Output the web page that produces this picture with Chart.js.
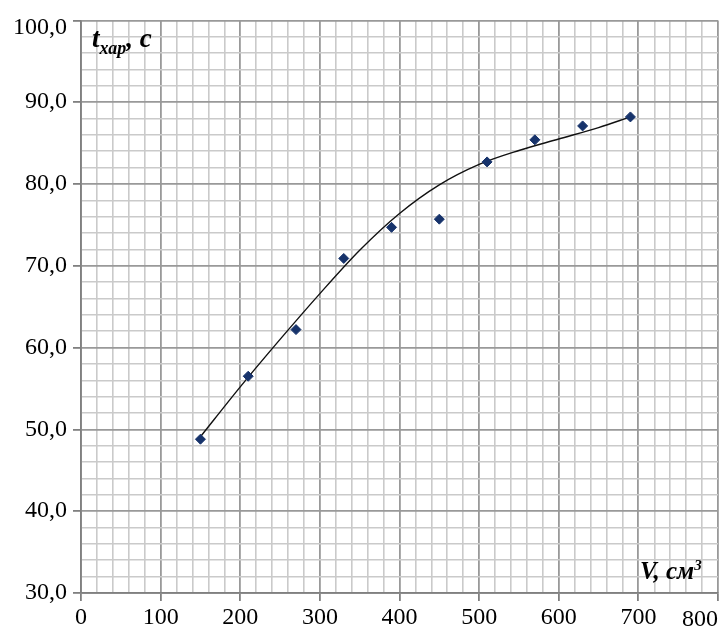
<!DOCTYPE html>
<html>
<head>
<meta charset="utf-8">
<script src="https://cdn.jsdelivr.net/npm/chart.js@4"></script>
<style>
  html, body { margin: 0; padding: 0; background: #fff; }
  #wrap { width: 725px; height: 627px; }
</style>
</head>
<body>
<div id="wrap"><canvas id="c" width="725" height="627"></canvas></div>
<script>
// измеренные точки: объём V, см3 и характерное время t, с
const volumes = [150, 210, 270, 330, 390, 450, 510, 570, 630, 690];
const times = [48.8, 56.5, 62.2, 70.9, 74.7, 75.7, 82.7, 85.4, 87.1, 88.2];

// линия тренда
const trendV = [150, 200, 250, 300, 350, 400, 450, 500, 550, 600, 650, 690];
const trendT = [49.1, 55.2, 61.0, 66.6, 71.9, 76.4, 79.9, 82.4, 84.1, 85.5, 86.9, 88.2];

// подписи осей
const xMajor = [0, 100, 200, 300, 400, 500, 600, 700, 800];
const yMajor = [30, 40, 50, 60, 70, 80, 90, 100];

const FONT = '"Liberation Serif", "Times New Roman", serif';
const MAJOR = '#999999';
const MINOR = '#cacaca';
const TICK_SIZE = 24;

function fmtY(v) { return v.toFixed(1).replace('.', ','); }

// пишет куски текста подряд, каждый своим шрифтом и сдвигом по вертикали
function runText(ctx, x, y, parts) {
  parts.forEach(p => {
    ctx.font = p.font;
    ctx.fillText(p.text, x, y + (p.dy || 0));
    x += ctx.measureText(p.text).width + (p.gap || 0);
  });
}

// подписи-заголовки осей и сдвинутые крайние метки
const extras = {
  id: 'extras',
  afterDraw(chart) {
    const ctx = chart.ctx;
    const xs = chart.scales.x, ys = chart.scales.y;
    const a = chart.chartArea;
    ctx.save();
    ctx.fillStyle = '#000';
    ctx.textBaseline = 'alphabetic';
    ctx.textAlign = 'left';

    // t_хар, с
    runText(ctx, a.left + 11, a.top + 27, [
      { text: 't', font: 'bold italic 27px ' + FONT },
      { text: 'хар', font: 'bold italic 18px ' + FONT, dy: 7 },
      { text: ', c', font: 'bold italic 27px ' + FONT }
    ]);

    // V, см3
    runText(ctx, a.right - 78, a.bottom - 14, [
      { text: 'V, см', font: 'bold italic 25px ' + FONT },
      { text: '3', font: 'bold italic 15px ' + FONT, dy: -9 }
    ]);

    // крайние метки: 800 прижата вправо и чуть ниже, 100,0 опущена
    ctx.font = TICK_SIZE + 'px ' + FONT;
    ctx.textAlign = 'right';
    ctx.textBaseline = 'top';
    ctx.fillText('800', xs.getPixelForValue(800), a.bottom + 15);
    ctx.textBaseline = 'middle';
    ctx.fillText(fmtY(100), a.left - 14, ys.getPixelForValue(100) + 7);
    ctx.restore();
  }
};

new Chart(document.getElementById('c'), {
  type: 'scatter',
  data: {
    datasets: [
      {
        label: 't',
        data: volumes.map((v, i) => ({ x: v, y: times[i] })),
        pointStyle: 'rectRot',
        pointRadius: 5,
        backgroundColor: '#17336b',
        borderColor: '#17336b',
        borderWidth: 1,
        order: 1
      },
      {
        label: 'trend',
        type: 'line',
        data: trendV.map((v, i) => ({ x: v, y: trendT[i] })),
        showLine: true,
        pointRadius: 0,
        borderColor: '#111',
        borderWidth: 1.4,
        tension: 0.4,
        cubicInterpolationMode: 'monotone',
        fill: false,
        order: 2
      }
    ]
  },
  options: {
    responsive: false,
    animation: false,
    layout: { padding: { top: 16, right: 7, left: 0, bottom: 0 } },
    plugins: { legend: { display: false }, tooltip: { enabled: false } },
    scales: {
      x: {
        type: 'linear',
        min: 0, max: 800,
        afterFit: s => { s.height = 34; },
        afterBuildTicks: s => {
          const t = [];
          for (let v = 0; v <= 800; v += 20) t.push({ value: v });
          s.ticks = t;
        },
        ticks: {
          autoSkip: false,
          maxRotation: 0,
          padding: 2,
          font: { family: FONT, size: TICK_SIZE },
          color: c => (c.tick && c.tick.value === 800 ? 'transparent' : '#000'),
          callback: v => (xMajor.includes(v) && v !== 800 ? String(v) : '')
        },
        grid: {
          color: c => (c.tick && c.tick.value % 100 === 0 ? MAJOR : MINOR),
          lineWidth: c => (c.tick && c.tick.value % 100 === 0 ? 1.8 : 1.6),
          tickColor: c => (c.tick && c.tick.value % 100 === 0 ? '#808080' : 'transparent'),
          tickLength: 8
        },
        border: { color: '#808080', width: 1.8 }
      },
      y: {
        type: 'linear',
        min: 30, max: 100,
        afterFit: s => { s.width = 81; },
        afterBuildTicks: s => {
          const t = [];
          for (let v = 30; v <= 100; v += 2) t.push({ value: v });
          s.ticks = t;
        },
        ticks: {
          autoSkip: false,
          padding: 6,
          font: { family: FONT, size: TICK_SIZE },
          color: c => (c.tick && c.tick.value === 100 ? 'transparent' : '#000'),
          callback: v => (yMajor.includes(v) && v !== 100 ? fmtY(v) : '')
        },
        grid: {
          color: c => (c.tick && c.tick.value % 10 === 0 ? MAJOR : MINOR),
          lineWidth: c => (c.tick && c.tick.value % 10 === 0 ? 1.8 : 1.6),
          tickColor: c => (c.tick && c.tick.value % 10 === 0 ? '#808080' : 'transparent'),
          tickLength: 8
        },
        border: { color: '#808080', width: 1.8 }
      }
    }
  },
  plugins: [extras]
});
</script>
</body>
</html>
